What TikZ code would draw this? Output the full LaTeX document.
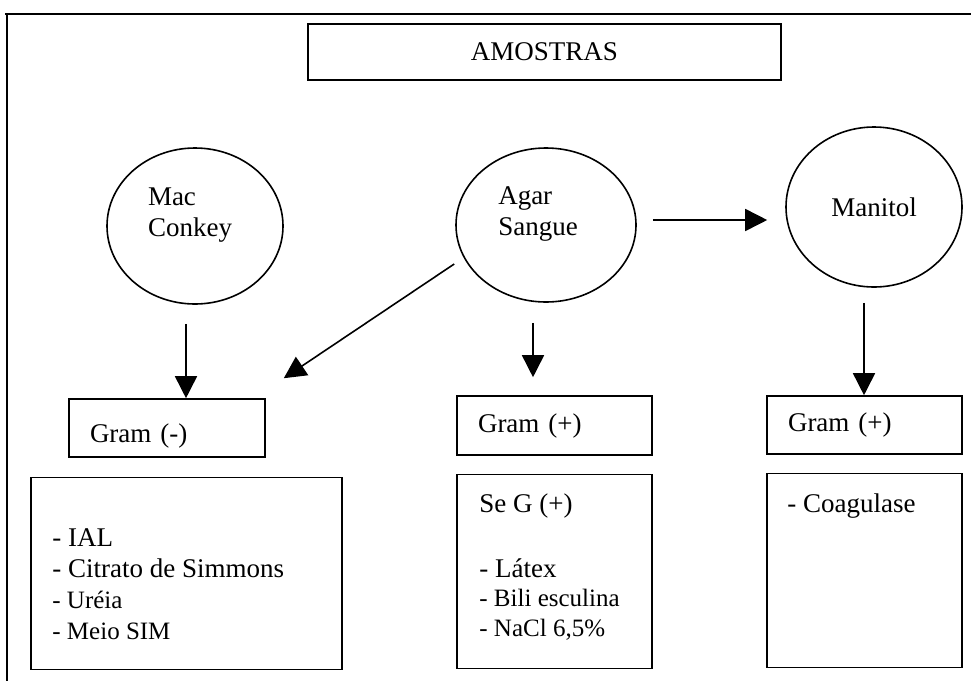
\documentclass[tikz,border=0pt]{standalone}
\usepackage{fontspec}
\setmainfont{Liberation Serif}
\usetikzlibrary{arrows.meta,positioning,shapes.geometric,calc}
\newcommand\smalltxt{\fontsize{25}{30}\selectfont}

\begin{document}
\begin{tikzpicture}[
x=1pt,y=-1pt,
node distance=18pt,
font=\fontsize{27}{31}\selectfont,
box/.style={rectangle,draw,line width=1.6pt,inner sep=0pt},
gram/.style={box,minimum width=195pt,minimum height=58pt,text width=153pt,inner xsep=21pt,align=left},
lista/.style={box,minimum width=195pt,minimum height=194pt},
meio/.style={ellipse,draw,line width=1.6pt,inner sep=0pt},
txt/.style={anchor=north west,inner sep=0pt,align=left},
arr/.style={-{Triangle[length=22pt,width=22pt]},line width=1.6pt}
]
\useasboundingbox (0,0) rectangle (971,681);
\draw[line width=1.3pt] (5,14) -- (971,14);
\draw[line width=1.3pt] (7,14) -- (7,681);

\node[box,minimum width=473pt,minimum height=56pt] (amostras) at (544.5,52) {AMOSTRAS};

\node[meio,minimum width=176pt,minimum height=156pt,
  label={[align=left,xshift=-5pt,yshift=11pt]center:Mac\\Conkey}] (mac) at (195,226) {};
\node[meio,minimum width=180pt,minimum height=154pt,
  label={[align=left,xshift=-8pt,yshift=11pt]center:Agar\\Sangue}] (agar) at (546,225) {};
\node[meio,minimum width=176pt,minimum height=160pt] (manitol) at (874,207) {Manitol};

\node[gram,minimum width=196pt,text width=154pt,text height=34pt] (gneg) at (167,428) {Gram (-)};
\node[gram,minimum height=59pt] (gpos1) at (554.5,425.5) {Gram (+)};
\node[gram] (gpos2) at (864.5,425) {Gram (+)};

\node[lista,below=19pt of gneg,xshift=19.5pt,minimum width=311pt,minimum height=192pt] (lneg) {};
\node[lista,below=of gpos1] (lpos1) {};
\node[lista,below=of gpos2] (lpos2) {};

\node[txt] (tneg) at ($(lneg.north west)+(22,52)$) {- IAL\\- Citrato de Simmons\\{\smalltxt - Uréia}\\{\smalltxt - Meio SIM}};
\node[txt] (tpos1) at ($(lpos1.north west)+(23,20)$) {Se G (+)\\[34pt]- Látex\\[-2pt]{\smalltxt - Bili esculina}\\[-1pt]{\smalltxt - NaCl 6,5\%}};
\node[txt] (tpos2) at ($(lpos2.north west)+(21,21)$) {- Coagulase};

\draw[arr] ($(mac.south)+(-9,19)$) coordinate (m1) -- (m1 |- gneg.north);
\draw[arr] ($(agar.south)+(-13,20)$) coordinate (a1) -- ($(a1 |- gpos1.north)+(0,-18)$);
\draw[arr] ($(agar.east)+(16,-5)$) -- ($(manitol.west)+(-18,13)$);
\draw[arr] ($(agar.west)+(-1,39)$) -- ($(gneg.north east)+(18,-20)$);
\draw[arr] ($(manitol.south)+(-10,15)$) coordinate (n1) -- (n1 |- gpos2.north);
\end{tikzpicture}
\end{document}
